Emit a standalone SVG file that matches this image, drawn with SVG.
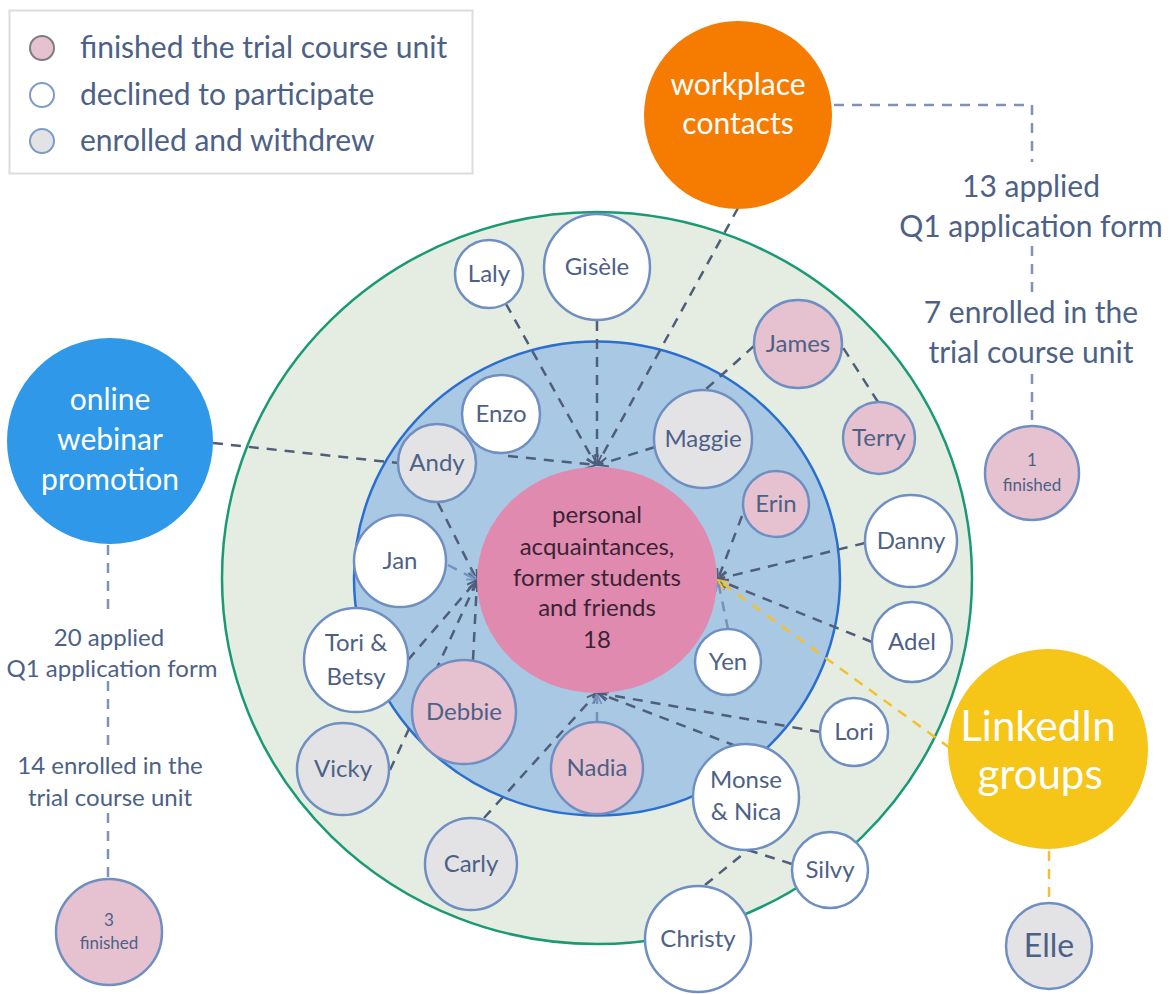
<svg xmlns="http://www.w3.org/2000/svg" width="1176" height="994" viewBox="0 0 1176 994">
  <defs>
    <style>
      text { font-family: Lato, "Open Sans", sans-serif; text-anchor: middle; fill: #4d6186; }
      .node circle { stroke: #6f8fc2; stroke-width: 2.5; }
      .fin { fill: #e6c2d1; }
      .dec { fill: #ffffff; }
      .wd { fill: #e3e3e6; }
      .name { font-size: 24px; }
      .note { font-size: 30px; }
      .note-s { font-size: 24px; }
      .small { font-size: 17px; }
      .legend-text { text-anchor: start; font-size: 30px; }
      .white { fill: #ffffff; }
      .core { fill: #3a2434; }
      .dash { fill: none; stroke: #4e5e7b; stroke-width: 2.5; stroke-dasharray: 10 8; }
      .dash.light { stroke: #7592bf; }
      .dash.side { stroke: #7d93b8; }
      .dash.gold { stroke: #f2c12e; }
    </style>
    <marker id="arr" viewBox="0 0 12 12" refX="11" refY="6" markerWidth="12" markerHeight="12" markerUnits="userSpaceOnUse" orient="auto">
      <path d="M1,1.5 L11,6 L1,10.5" fill="none" stroke="#4e5e7b" stroke-width="1.8"/>
    </marker>
    <marker id="arr-light" viewBox="0 0 12 12" refX="11" refY="6" markerWidth="12" markerHeight="12" markerUnits="userSpaceOnUse" orient="auto">
      <path d="M1,1.5 L11,6 L1,10.5" fill="none" stroke="#7592bf" stroke-width="1.8"/>
    </marker>
    <marker id="arr-gold" viewBox="0 0 12 12" refX="11" refY="6" markerWidth="12" markerHeight="12" markerUnits="userSpaceOnUse" orient="auto">
      <path d="M1,1.5 L11,6 L1,10.5" fill="none" stroke="#f2c12e" stroke-width="1.8"/>
    </marker>
  </defs>

  <rect width="1176" height="994" fill="#ffffff"/>

  <!-- legend -->
  <g id="legend">
    <rect x="9.5" y="10.5" width="463" height="163" fill="#ffffff" stroke="#dcdcdc" stroke-width="2"/>
    <circle cx="42" cy="48" r="12" fill="#e6c2d1" stroke="#7d7d7d" stroke-width="2"/>
    <circle cx="42" cy="95" r="12" fill="#ffffff" stroke="#7a9cc6" stroke-width="2"/>
    <circle cx="42" cy="141" r="12" fill="#e3e3e6" stroke="#7a9cc6" stroke-width="2"/>
    <text class="legend-text" x="80" y="58">finished the trial course unit</text>
    <text class="legend-text" x="80" y="105">declined to participate</text>
    <text class="legend-text" x="80" y="151">enrolled and withdrew</text>
  </g>

  <!-- rings -->
  <g id="rings">
    <ellipse cx="597" cy="578" rx="375" ry="366" fill="#e5ede2" stroke="#1a9a73" stroke-width="2.5"/>
    <ellipse cx="597" cy="578.5" rx="243" ry="237" fill="#a9c8e3" stroke="#2a6fd0" stroke-width="2.5"/>
  </g>

  <!-- connectors -->
  <g id="connectors">
    <!-- into the top of the centre -->
    <line class="dash" x1="738" y1="208" x2="597" y2="465" marker-end="url(#arr)"/>
    <line class="dash" x1="506" y1="304" x2="596" y2="465" marker-end="url(#arr)"/>
    <line class="dash" x1="597" y1="321" x2="597" y2="465" marker-end="url(#arr)"/>
    <line class="dash" x1="508" y1="456" x2="596" y2="465" marker-end="url(#arr)"/>
    <line class="dash" x1="655" y1="447" x2="598" y2="465" marker-end="url(#arr)"/>
    <line class="dash" x1="754" y1="346" x2="705" y2="390"/>
    <line class="dash" x1="878" y1="402" x2="842" y2="346"/>
    <!-- into the left of the centre -->
    <line class="dash" x1="213" y1="443" x2="398" y2="463"/>
    <line class="dash" x1="438" y1="503" x2="477" y2="580" marker-end="url(#arr)"/>
    <line class="dash light" x1="448" y1="565" x2="477" y2="580" marker-end="url(#arr-light)"/>
    <line class="dash" x1="408" y1="660" x2="477" y2="580" marker-end="url(#arr)"/>
    <line class="dash" x1="473" y1="660" x2="477" y2="581" marker-end="url(#arr)"/>
    <line class="dash" x1="390" y1="770" x2="477" y2="581" marker-end="url(#arr)"/>
    <!-- into the bottom of the centre -->
    <line class="dash" x1="484" y1="818" x2="597" y2="693" marker-end="url(#arr)"/>
    <line class="dash light" x1="597" y1="722" x2="597" y2="694" marker-end="url(#arr-light)"/>
    <line class="dash" x1="736" y1="746" x2="598" y2="693" marker-end="url(#arr)"/>
    <line class="dash" x1="820" y1="732" x2="598" y2="693" marker-end="url(#arr)"/>
    <line class="dash" x1="748" y1="850" x2="792" y2="864"/>
    <line class="dash" x1="705" y1="885" x2="748" y2="850"/>
    <!-- into the right of the centre -->
    <line class="dash" x1="742" y1="516" x2="718" y2="579" marker-end="url(#arr)"/>
    <line class="dash" x1="865" y1="543" x2="718" y2="579" marker-end="url(#arr)"/>
    <line class="dash" x1="872" y1="642" x2="718" y2="580" marker-end="url(#arr)"/>
    <line class="dash light" x1="728" y1="629" x2="718" y2="581" marker-end="url(#arr-light)"/>
    <line class="dash gold" x1="950" y1="748" x2="718" y2="580" marker-end="url(#arr-gold)"/>
    <line class="dash gold" x1="1049" y1="851" x2="1049" y2="904"/>
    <!-- source funnels -->
    <path class="dash side" d="M834 105 H1032 V162"/>
    <path class="dash side" d="M1032 246 V292"/>
    <path class="dash side" d="M1032 374 V426"/>
    <path class="dash side" d="M108 545 V617"/>
    <path class="dash side" d="M108 681 V748"/>
    <path class="dash side" d="M108 813 V878"/>
  </g>

  <!-- source circles -->
  <g id="workplace">
    <circle cx="738" cy="115" r="94" fill="#f57c00"/>
    <text class="white" x="738" y="95" style="font-size:30px">workplace</text>
    <text class="white" x="738" y="134" style="font-size:30px">contacts</text>
  </g>
  <g id="webinar">
    <circle cx="110" cy="441" r="103" fill="#2f98e8"/>
    <text class="white" x="110" y="410" style="font-size:30px">online</text>
    <text class="white" x="110" y="450" style="font-size:30px">webinar</text>
    <text class="white" x="110" y="490" style="font-size:30px">promotion</text>
  </g>
  <g id="linkedin">
    <circle cx="1048" cy="749" r="100" fill="#f5c518"/>
    <text class="white" x="1038" y="741" style="font-size:42px">LinkedIn</text>
    <text class="white" x="1040" y="789" style="font-size:42px">groups</text>
  </g>

  <!-- funnel labels -->
  <g id="workplace-stats">
    <text class="note" x="1031" y="197">13 applied</text>
    <text class="note" x="1031" y="237">Q1 application form</text>
    <text class="note" x="1031" y="323">7 enrolled in the</text>
    <text class="note" x="1031" y="363">trial course unit</text>
  </g>
  <g id="webinar-stats">
    <text class="note-s" x="109" y="646">20 applied</text>
    <text class="note-s" x="112" y="677">Q1 application form</text>
    <text class="note-s" x="110" y="774">14 enrolled in the</text>
    <text class="note-s" x="110" y="806">trial course unit</text>
  </g>

  <!-- centre -->
  <g id="center">
    <ellipse cx="597" cy="580" rx="120" ry="113" fill="#e08ab0"/>
    <g style="font-size:24px">
      <text class="core" x="597" y="523">personal</text>
      <text class="core" x="597" y="555">acquaintances,</text>
      <text class="core" x="597" y="586">former students</text>
      <text class="core" x="597" y="616">and friends</text>
      <text class="core" x="597" y="648">18</text>
    </g>
  </g>

  <!-- people -->
  <g id="laly" class="node"><circle class="dec" cx="489" cy="274" r="34"/><text class="name" x="489" y="282">Laly</text></g>
  <g id="gisele" class="node"><circle class="dec" cx="597" cy="267" r="53"/><text class="name" x="597" y="275">Gisèle</text></g>
  <g id="enzo" class="node"><circle class="dec" cx="501" cy="414" r="39"/><text class="name" x="501" y="422">Enzo</text></g>
  <g id="andy" class="node"><circle class="wd" cx="437" cy="463" r="39"/><text class="name" x="437" y="471">Andy</text></g>
  <g id="jan" class="node"><circle class="dec" cx="400" cy="561" r="46"/><text class="name" x="400" y="569">Jan</text></g>
  <g id="tori-betsy" class="node"><circle class="dec" cx="356" cy="660" r="52"/><text class="name" x="356" y="651">Tori &amp;</text><text class="name" x="356" y="685">Betsy</text></g>
  <g id="vicky" class="node"><circle class="wd" cx="343" cy="769" r="46"/><text class="name" x="343" y="777">Vicky</text></g>
  <g id="debbie" class="node"><circle class="fin" cx="464" cy="712" r="52"/><text class="name" x="464" y="720">Debbie</text></g>
  <g id="carly" class="node"><circle class="wd" cx="471" cy="864" r="46"/><text class="name" x="471" y="872">Carly</text></g>
  <g id="nadia" class="node"><circle class="fin" cx="597" cy="768" r="46"/><text class="name" x="597" y="776">Nadia</text></g>
  <g id="monse-nica" class="node"><circle class="dec" cx="746" cy="797" r="53"/><text class="name" x="746" y="788">Monse</text><text class="name" x="746" y="820">&amp; Nica</text></g>
  <g id="christy" class="node"><circle class="dec" cx="698" cy="939" r="53"/><text class="name" x="698" y="947">Christy</text></g>
  <g id="silvy" class="node"><circle class="dec" cx="830" cy="870" r="38"/><text class="name" x="830" y="878">Silvy</text></g>
  <g id="lori" class="node"><circle class="dec" cx="854" cy="732" r="34"/><text class="name" x="854" y="740">Lori</text></g>
  <g id="yen" class="node"><circle class="dec" cx="728" cy="662" r="33"/><text class="name" x="728" y="670">Yen</text></g>
  <g id="adel" class="node"><circle class="dec" cx="912" cy="642" r="40"/><text class="name" x="912" y="650">Adel</text></g>
  <g id="danny" class="node"><circle class="dec" cx="911" cy="541" r="46"/><text class="name" x="911" y="549">Danny</text></g>
  <g id="erin" class="node"><circle class="fin" cx="776" cy="504" r="33"/><text class="name" x="776" y="512">Erin</text></g>
  <g id="maggie" class="node"><circle class="wd" cx="703" cy="439" r="49"/><text class="name" x="703" y="447">Maggie</text></g>
  <g id="james" class="node"><circle class="fin" cx="798" cy="344" r="44"/><text class="name" x="798" y="352">James</text></g>
  <g id="terry" class="node"><circle class="fin" cx="879" cy="438" r="36"/><text class="name" x="879" y="446">Terry</text></g>

  <!-- outcome circles -->
  <g id="workplace-finished" class="node"><circle class="fin" cx="1032" cy="473" r="47"/><text class="small" x="1032" y="466">1</text><text class="small" x="1032" y="491">finished</text></g>
  <g id="webinar-finished" class="node"><circle class="fin" cx="109" cy="932" r="53"/><text class="small" x="109" y="926">3</text><text class="small" x="109" y="949">finished</text></g>
  <g id="elle" class="node"><circle class="wd" cx="1049" cy="946" r="43"/><text x="1049" y="957" style="font-size:32px">Elle</text></g>
</svg>
